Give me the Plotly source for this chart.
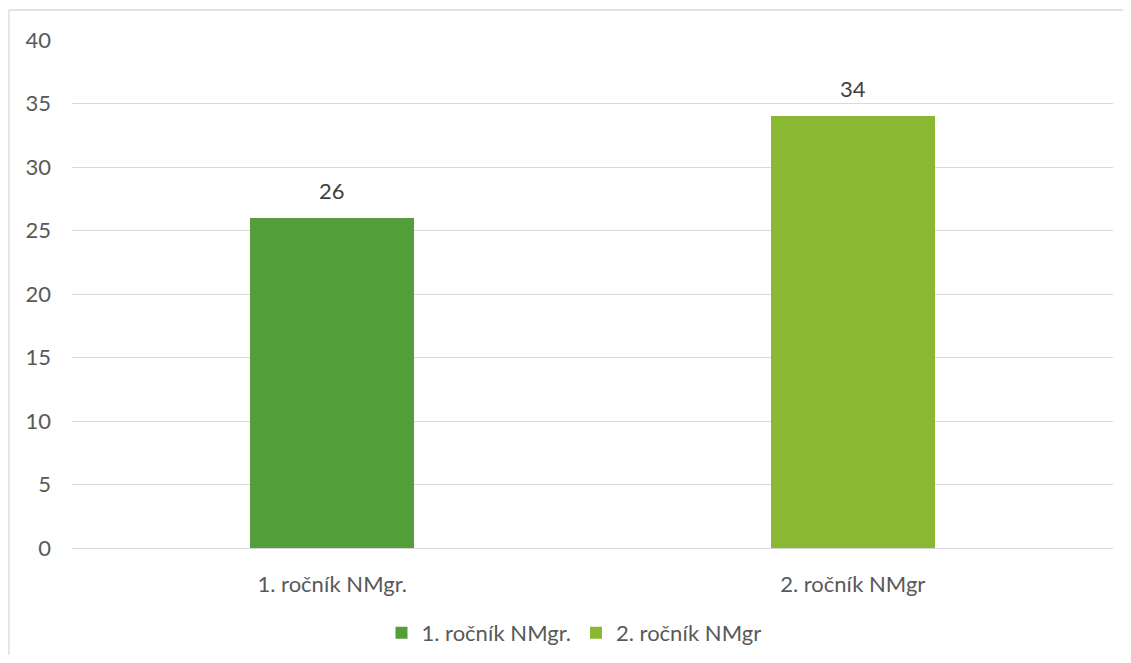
import plotly.graph_objects as go

categories = ["1. ročník NMgr.", "2. ročník NMgr"]
values = [26, 34]
series_names = ["1. ročník NMgr.", "2. ročník NMgr"]
colors = ["#549E39", "#8AB833"]
y_ticks = [0, 5, 10, 15, 20, 25, 30, 35, 40]

# page offset (browser body margin) compensation
OFF = 8
W, H = 1131 - 2 * OFF, 663 - 2 * OFF
L, T = 72 - OFF, 40 - OFF
R = W - (1113 - OFF)
B = H - (548 - OFF)
pw, ph = W - L - R, H - T - B

FONT = "Lato"
TXT = "#595959"
FS = 22

fig = go.Figure()
for i, (cat, val) in enumerate(zip(categories, values)):
    fig.add_trace(go.Bar(
        x=[cat], y=[val], name=series_names[i],
        marker=dict(color=colors[i], line=dict(width=0)),
        width=0.315, offset=-0.1575,
    ))
    fig.add_annotation(x=cat, y=val, text=str(val), showarrow=False,
                       yanchor="bottom", yshift=12,
                       font=dict(family=FONT, size=FS, color="#404040"))

def px_to_paper_x(px):
    return (px - OFF - L) / pw

def px_to_paper_y(py):
    return (H - B - (py - OFF)) / ph

fig.add_shape(type="line", xref="paper", yref="paper",
              x0=px_to_paper_x(9), x1=px_to_paper_x(OFF + W),
              y0=px_to_paper_y(10), y1=px_to_paper_y(10),
              line=dict(color="#d9d9d9", width=1.3))
fig.add_shape(type="line", xref="paper", yref="paper",
              x0=px_to_paper_x(9), x1=px_to_paper_x(9),
              y0=px_to_paper_y(10), y1=px_to_paper_y(OFF + H),
              line=dict(color="#d9d9d9", width=1.3))

fig.update_layout(
    width=W, height=H,
    margin=dict(l=L, r=R, t=T, b=B, autoexpand=False),
    paper_bgcolor="white", plot_bgcolor="white",
    font=dict(family=FONT, size=FS, color=TXT),
    barmode="overlay",
    bargap=0,
    showlegend=True,
    legend=dict(orientation="h", x=px_to_paper_x(574), xanchor="center",
                y=px_to_paper_y(633), yanchor="middle",
                font=dict(family=FONT, size=FS, color=TXT),
                itemwidth=30, traceorder="normal"),
    xaxis=dict(showgrid=False, showline=True, linecolor="#d9d9d9", linewidth=1.3,
               ticks="", ticklabelstandoff=16,
               tickfont=dict(family=FONT, size=FS, color=TXT)),
    yaxis=dict(range=[0, 40], tickvals=y_ticks, showgrid=True,
               gridcolor="#d9d9d9", gridwidth=1.3, zeroline=False,
               showline=False, ticks="", ticklabelstandoff=20,
               tickfont=dict(family=FONT, size=FS, color=TXT)),
)

fig.write_html("out.html")
